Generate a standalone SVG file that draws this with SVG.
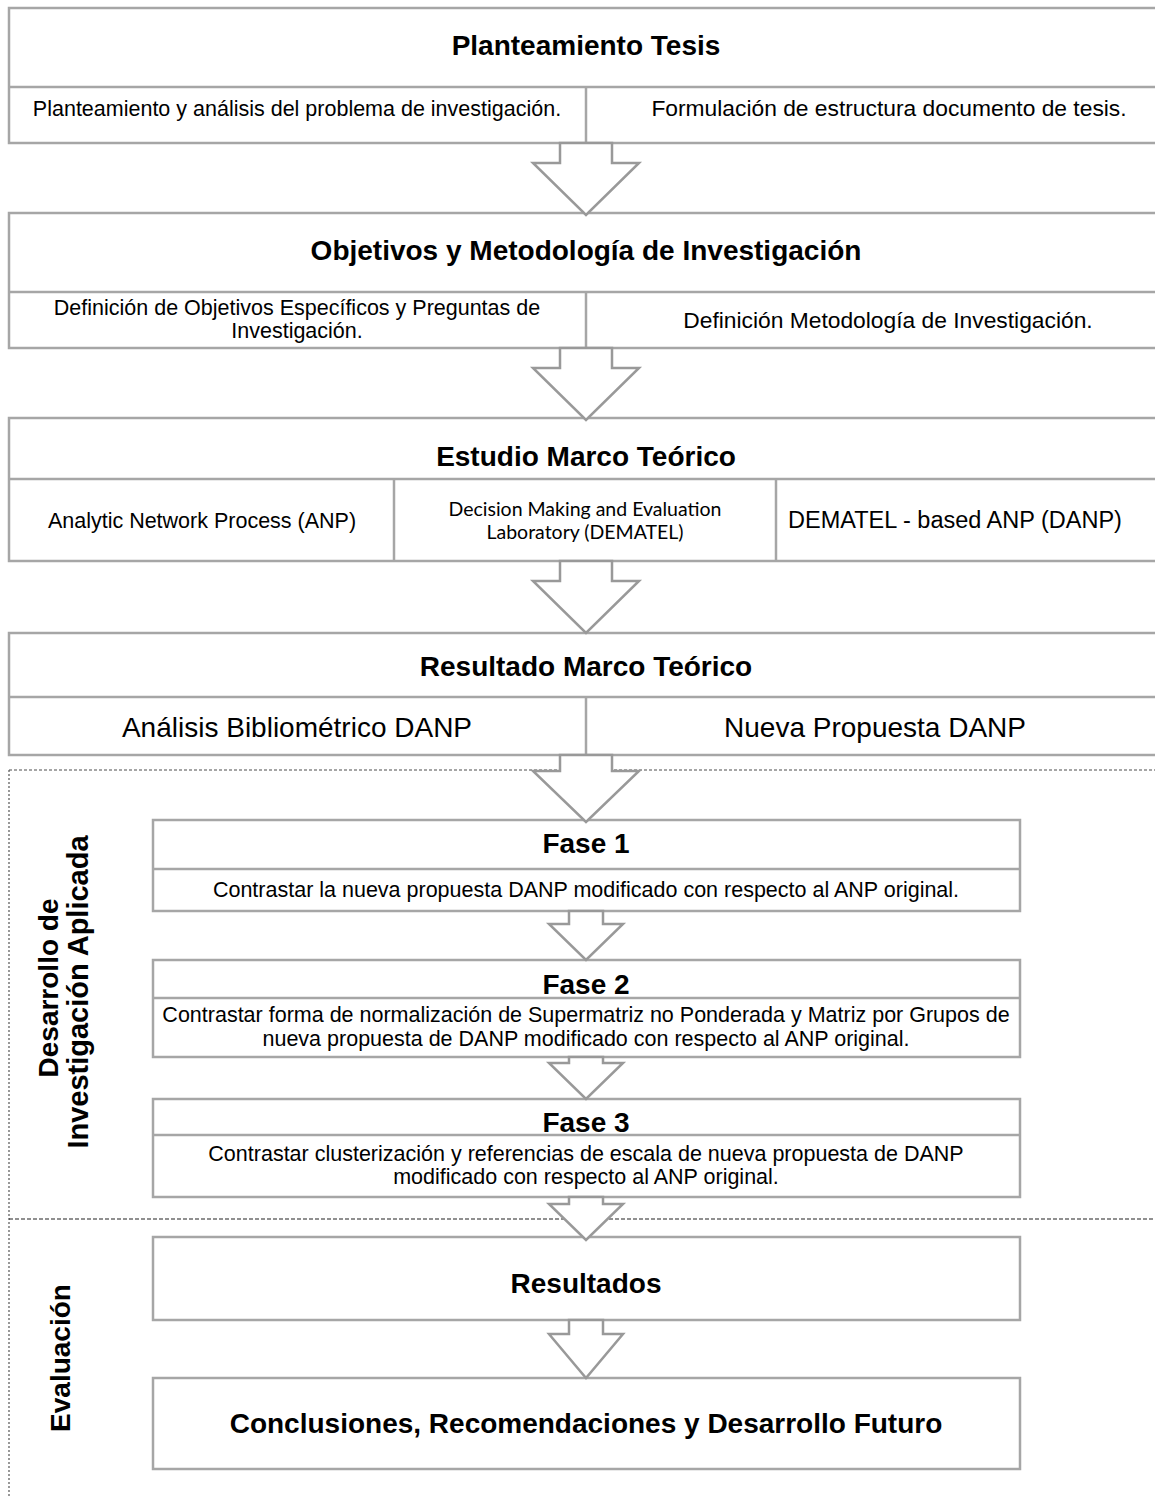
<svg xmlns="http://www.w3.org/2000/svg" width="1155" height="1497" viewBox="0 0 1155 1497">
<style>
.box{fill:#fff;stroke:#a6a6a6;stroke-width:2.5}
.ln{stroke:#a6a6a6;stroke-width:2.5;fill:none}
.arr{fill:#fff;stroke:#999;stroke-width:2.5;stroke-linejoin:miter}
text{font-family:"Liberation Sans",Arial,sans-serif;fill:#000;text-anchor:middle}
.t1{font-size:28px;font-weight:bold}
.t2{font-size:21.5px}
.t2r{font-size:22.8px}
.t3{font-size:28px}
.cal{font-family:"Lato","Open Sans",sans-serif;font-size:19.5px}
.lbl{font-size:28px;font-weight:bold}
</style>
<rect width="1155" height="1497" fill="#fff"/>
<g id="sections">
<path d="M9,770 H1155" stroke="#888" stroke-width="1.5" stroke-dasharray="3,2" fill="none"/>
<path d="M9,770 V1497" stroke="#555" stroke-width="1.2" stroke-dasharray="2,2" fill="none"/>
<path d="M9,1219 H1155" stroke="#222" stroke-width="1.2" stroke-dasharray="4,2" fill="none"/>
<text class="lbl" transform="translate(58,988) rotate(-90)">Desarrollo de</text>
<text class="lbl" transform="translate(88,992) rotate(-90)" style="font-size:29px">Investigación Aplicada</text>
<text class="lbl" transform="translate(70,1358) rotate(-90)">Evaluación</text>
</g>
<g id="n1">
<rect class="box" x="9" y="8" width="1160" height="135"/>
<path class="ln" d="M9,87 H1169 M586,87 V143"/>
<text class="t1" x="586" y="55">Planteamiento Tesis</text>
<text class="t2" x="297" y="116">Planteamiento y análisis del problema de investigación.</text>
<text class="t2r" x="889" y="116">Formulación de estructura documento de tesis.</text>
</g>
<g id="n2">
<rect class="box" x="9" y="213" width="1160" height="135"/>
<path class="ln" d="M9,292 H1169 M586,292 V348"/>
<text class="t1" x="586" y="260">Objetivos y Metodología de Investigación</text>
<text class="t2" x="297" y="315">Definición de Objetivos Específicos y Preguntas de</text>
<text class="t2" x="297" y="338">Investigación.</text>
<text class="t2r" x="888" y="328">Definición Metodología de Investigación.</text>
</g>
<g id="n3">
<rect class="box" x="9" y="418" width="1160" height="143"/>
<path class="ln" d="M9,479 H1169 M394,479 V561 M776,479 V561"/>
<text class="t1" x="586" y="466">Estudio Marco Teórico</text>
<text class="t2" x="202" y="528">Analytic Network Process (ANP)</text>
<text class="cal" x="585" y="516">Decision Making and Evaluation</text>
<text class="cal" x="585" y="539">Laboratory (DEMATEL)</text>
<text class="t2r" x="955" y="528" style="font-size:23.5px">DEMATEL - based ANP (DANP)</text>
</g>
<g id="n4">
<rect class="box" x="9" y="633" width="1160" height="122"/>
<path class="ln" d="M9,697 H1169 M586,697 V755"/>
<text class="t1" x="586" y="676">Resultado Marco Teórico</text>
<text class="t3" x="297" y="737">Análisis Bibliométrico DANP</text>
<text class="t3" x="875" y="737">Nueva Propuesta DANP</text>
</g>
<g id="f1">
<rect class="box" x="153" y="820" width="867" height="91"/>
<path class="ln" d="M153,869 H1020"/>
<text class="t1" x="586" y="853">Fase 1</text>
<text class="t2" x="586" y="897">Contrastar la nueva propuesta DANP modificado con respecto al ANP original.</text>
</g>
<g id="f2">
<rect class="box" x="153" y="960" width="867" height="97"/>
<path class="ln" d="M153,998 H1020"/>
<text class="t1" x="586" y="994">Fase 2</text>
<text class="t2" x="586" y="1022">Contrastar forma de normalización de Supermatriz no Ponderada y Matriz por Grupos de</text>
<text class="t2" x="586" y="1046">nueva propuesta de DANP modificado con respecto al ANP original.</text>
</g>
<g id="f3">
<rect class="box" x="153" y="1099" width="867" height="98"/>
<path class="ln" d="M153,1135 H1020"/>
<text class="t1" x="586" y="1132">Fase 3</text>
<text class="t2" x="586" y="1161">Contrastar clusterización y referencias de escala de nueva propuesta de DANP</text>
<text class="t2" x="586" y="1184">modificado con respecto al ANP original.</text>
</g>
<g id="r">
<rect class="box" x="153" y="1237" width="867" height="83"/>
<text class="t1" x="586" y="1293">Resultados</text>
</g>
<g id="c">
<rect class="box" x="153" y="1378" width="867" height="91"/>
<text class="t1" x="586" y="1433">Conclusiones, Recomendaciones y Desarrollo Futuro</text>
</g>
<g id="connectors">
<polygon class="arr" points="560,143 612,143 612,163 639,163 586,215 533,163 560,163"/>
<polygon class="arr" points="560,348 612,348 612,368 639,368 586,420 533,368 560,368"/>
<polygon class="arr" points="560,561 612,561 612,581 639,581 586,633 533,581 560,581"/>
<polygon class="arr" points="560,755 612,755 612,771 639,771 586,822 533,771 560,771"/>
<polygon class="arr" points="569,911 603,911 603,924 623,924 586,960 549,924 569,924"/>
<polygon class="arr" points="569,1057 603,1057 603,1063 623,1063 586,1099 549,1063 569,1063"/>
<polygon class="arr" points="569,1197 603,1197 603,1204 623,1204 586,1240 549,1204 569,1204"/>
<polygon class="arr" points="569,1320 603,1320 603,1334 623,1334 586,1378 549,1334 569,1334"/>
</g>
</svg>
